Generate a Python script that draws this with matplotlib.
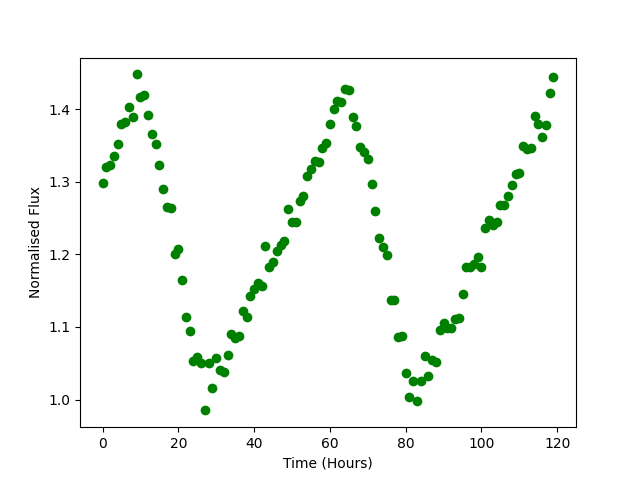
import numpy as np
import matplotlib
matplotlib.use("Agg")
import matplotlib.pyplot as plt

time_hours = np.arange(120)

flux = [
    1.298, 1.320, 1.323, 1.336, 1.352, 1.380, 1.383, 1.403, 1.389, 1.448,
    1.417, 1.420, 1.392, 1.366, 1.352, 1.323, 1.290, 1.265, 1.264, 1.200,
    1.207, 1.164, 1.114, 1.095, 1.053, 1.058, 1.050, 0.985, 1.050, 1.016,
    1.057, 1.040, 1.038, 1.061, 1.090, 1.085, 1.087, 1.122, 1.114, 1.142,
    1.152, 1.160, 1.157, 1.211, 1.182, 1.190, 1.205, 1.213, 1.218, 1.263,
    1.245, 1.245, 1.273, 1.281, 1.308, 1.317, 1.328, 1.327, 1.347, 1.353,
    1.380, 1.401, 1.411, 1.410, 1.428, 1.427, 1.389, 1.377, 1.348, 1.341,
    1.331, 1.297, 1.260, 1.222, 1.210, 1.199, 1.137, 1.137, 1.086, 1.088,
    1.036, 1.004, 1.025, 0.998, 1.025, 1.060, 1.033, 1.055, 1.052, 1.096,
    1.105, 1.099, 1.098, 1.111, 1.113, 1.146, 1.183, 1.183, 1.187, 1.197,
    1.183, 1.237, 1.248, 1.240, 1.244, 1.268, 1.268, 1.281, 1.296, 1.311,
    1.312, 1.349, 1.345, 1.347, 1.390, 1.379, 1.362, 1.378, 1.422, 1.445,
]

plt.figure(figsize=(6.4, 4.8), dpi=100)
plt.plot(time_hours, flux, 'o', color='green')
plt.xlabel('Time (Hours)')
plt.ylabel('Normalised Flux')
plt.savefig('out.png')
